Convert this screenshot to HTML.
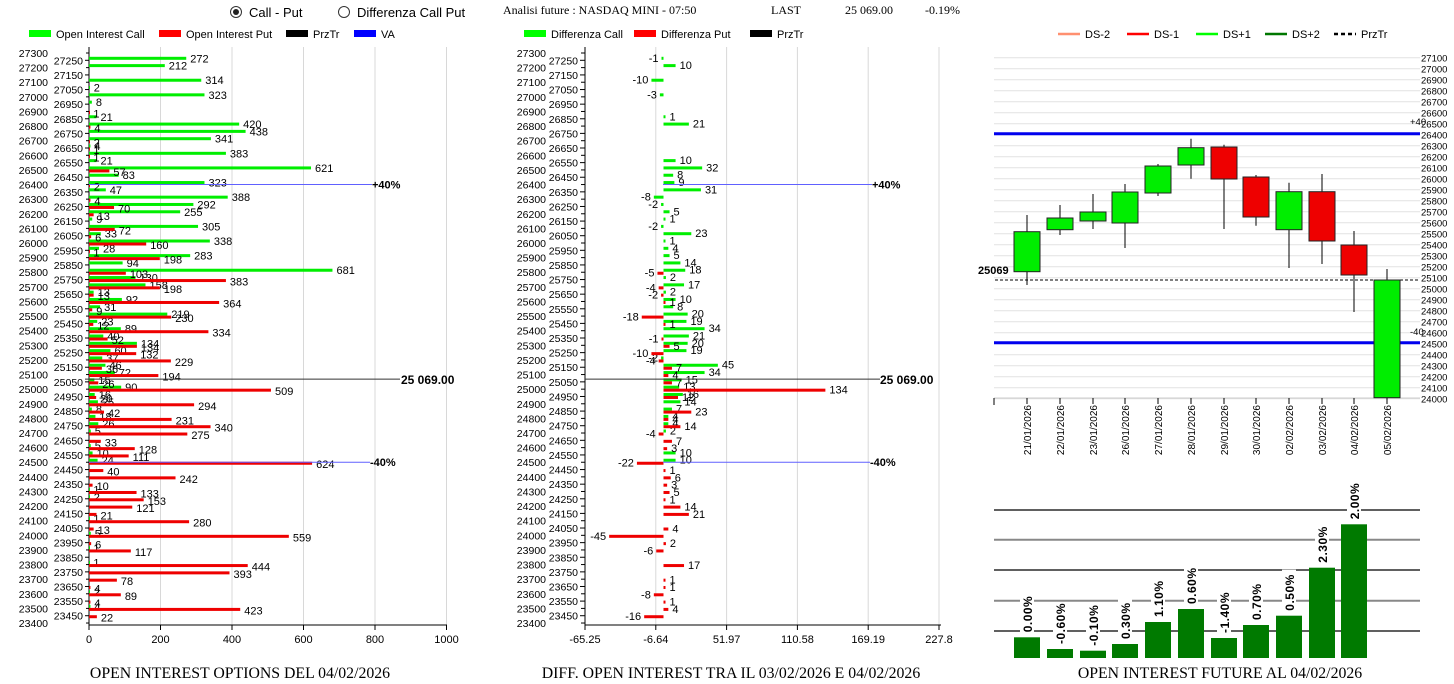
<!DOCTYPE html>
<html><head><meta charset="utf-8">
<style>
body{margin:0;background:#fff;width:1454px;height:684px;overflow:hidden}
svg{display:block}
text{font-family:"Liberation Sans",sans-serif}
.s{font-family:"Liberation Serif",serif}
</style></head><body>
<svg id="c" width="1454" height="684" xmlns="http://www.w3.org/2000/svg"></svg>
<script>
const S=document.getElementById('c');let h='';
function r(x,y,w,hh,f,extra=''){h+=`<rect x="${x}" y="${y}" width="${w}" height="${hh}" fill="${f}" ${extra}/>`;}
function l(x1,y1,x2,y2,c,w=1,extra=''){h+=`<line x1="${x1}" y1="${y1}" x2="${x2}" y2="${y2}" stroke="${c}" stroke-width="${w}" ${extra}/>`;}
function t(x,y,s,sz=11,a='start',extra=''){h+=`<text x="${x}" y="${y}" font-size="${sz}" text-anchor="${a}" ${extra}>${s}</text>`;}
// header
h+=`<circle cx="236" cy="12" r="5.5" fill="#fff" stroke="#333"/><circle cx="236" cy="12" r="3" fill="#222"/>`;
t(249,17,'Call - Put',13);
h+=`<circle cx="344" cy="12" r="5.5" fill="#fff" stroke="#333"/>`;
t(357,17,'Differenza Call Put',13);
t(503,14,'Analisi future : NASDAQ MINI - 07:50',12,'start','class="s"');
t(771,14,'LAST',12,'start','class="s"');
t(845,14,'25 069.00',12,'start','class="s"');
t(925,14,'-0.19%',12,'start','class="s"');
// legends
[[29,'#00ff00','Open Interest Call'],[159,'#ff0000','Open Interest Put'],[286,'#000','PrzTr'],[354,'#0000ff','VA']].forEach(a=>{r(a[0],30,22,7,a[1]);t(a[0]+27,38,a[2],11);});
[[524,'#00ff00','Differenza Call'],[634,'#ff0000','Differenza Put'],[750,'#000','PrzTr']].forEach(a=>{r(a[0],30,22,7,a[1]);t(a[0]+27,38,a[2],11);});
[[1058,'#ff9070','DS-2',0],[1127,'#ff0000','DS-1',0],[1196,'#00ff00','DS+1',0],[1265,'#007700','DS+2',0],[1334,'#000','PrzTr',1]].forEach(a=>{l(a[0],34,a[0]+22,34,a[1],2.5,a[3]?'stroke-dasharray="4,3"':'');t(a[0]+27,38,a[2],11);});
// data
const C={27250:272,27200:212,27100:314,27050:2,27000:323,26950:8,26850:21,26800:420,26750:438,26700:341,26650:4,26600:383,26550:21,26500:621,26450:83,26400:323,26350:47,26300:388,26250:292,26200:255,26150:9,26100:305,26050:33,26000:338,25950:28,25900:283,25850:94,25800:681,25750:130,25700:158,25650:13,25600:92,25550:31,25500:219,25450:23,25400:89,25350:40,25300:134,25250:60,25200:37,25150:46,25100:72,25050:15,25000:90,24950:16,24900:25,24850:8,24800:18,24750:26,24700:5,24600:5,24550:10,24500:24,24300:1,24250:2,24100:1,24000:5,23900:1,23800:1,23600:2,23500:4};
const P={26900:1,26800:4,26700:2,26650:1,26600:1,26500:57,26400:2,26300:4,26250:70,26200:13,26100:72,26050:6,26000:160,25950:1,25900:198,25800:103,25750:383,25700:198,25650:13,25600:364,25550:9,25500:230,25450:12,25400:334,25350:52,25300:134,25250:132,25200:229,25150:36,25100:194,25050:26,25000:509,24950:20,24900:294,24850:42,24800:231,24750:340,24700:275,24650:33,24600:128,24550:111,24500:624,24450:40,24400:242,24350:10,24300:133,24250:153,24200:121,24150:21,24100:280,24050:13,24000:559,23950:6,23900:117,23800:444,23750:393,23700:78,23650:4,23600:89,23550:4,23500:423,23450:22};
const DC={27250:-1,27200:10,27100:-10,27000:-3,26850:1,26800:21,26550:10,26500:32,26450:8,26400:9,26350:31,26300:-8,26250:-2,26200:5,26150:1,26100:-2,26050:23,26000:1,25950:4,25900:5,25850:14,25800:18,25750:2,25700:17,25650:2,25600:10,25550:8,25500:20,25450:19,25400:34,25350:21,25300:20,25250:19,25200:-2,25150:45,25100:34,25050:15,25000:13,24950:16,24900:14,24850:7,24800:4,24750:4,24700:2,24550:10,24500:10};
const DP={25800:-5,25700:-4,25650:-2,25600:1,25500:-18,25450:1,25350:-1,25300:5,25250:-10,25200:-4,25150:7,25100:4,25050:7,25000:134,24950:12,24850:23,24800:4,24750:14,24700:-4,24650:7,24600:3,24500:-22,24450:1,24400:6,24350:3,24300:5,24250:1,24200:14,24150:21,24050:4,24000:-45,23950:2,23900:-6,23800:17,23700:1,23650:1,23600:-8,23550:1,23500:4,23450:-16};
const Y=s=>53+(27300-s)/50*7.308;
// left chart
[200,400,600,800,1000].forEach(v=>{const x=89+v*0.3575;l(x,47,x,625,'#d8d8d8');});
l(89,47,89,625,'#000');l(89,625,447,625,'#000');
[0,200,400,600,800,1000].forEach(v=>{const x=89+v*0.3575;l(x,625,x,630,'#000');t(x,643,v,11,'middle');});
// middle grid
[-65.25,-6.64,51.97,110.58,169.19,227.8].forEach((v,i)=>{const x=585+i*70.8;if(i)l(x,47,x,625,'#d8d8d8');l(x,625,x,630,'#000');t(x,643,v,11,'middle');});
l(585,47,585,625,'#000');l(585,625,941,625,'#000');
for(let s=27300;s>=23400;s-=50){const y=Y(s);const odd=s%100!=0;
 l(odd?85:86,y,89,y,'#000');l(odd?580:581,y,585,y,'#000');
 if(odd){t(83,y+4,s,10.5,'end');t(578,y+4,s,10.5,'end');}
 else{t(48,y+4,s,10.5,'end');t(546,y+4,s,10.5,'end');}
}
for(const s in C){const y=Y(+s),w=C[s]*0.3575;r(89,y-3.5,Math.max(w,1),3,'#00ee00');t(89+w+4,y+2,C[s],11);}
for(const s in P){const y=Y(+s),w=P[s]*0.3575;r(89,y-0.5,Math.max(w,1),3,'#ee0000');t(89+w+4,y+6,P[s],11);}
const z=663.5,k=1.208;
function mid(D,off,col){for(const s in D){const y=Y(+s),v=D[s],w=Math.max(Math.abs(v)*k,2);const x=v>=0?z:z-w;r(x,y+off,w,3,col);if(v>=0)t(z+w+4,y+off+5,v,11);else t(z-w-3,y+off+5,v,11,'end');}}
mid(DC,-3.5,'#00ee00');mid(DP,-0.5,'#ee0000');
// lines left/mid
const yA=Y(26400),yB=Y(24500),yP=Y(25069);
l(89,yA,372,yA,'#6060ff');t(372,yA+4,'+40%',11,'start','font-weight="bold"');
l(89,yB,370,yB,'#6060ff');t(370,yB+4,'-40%',11,'start','font-weight="bold"');
l(85,yP,400,yP,'#333');t(401,yP+5,'25 069.00',12,'start','font-weight="bold"');
l(663,yA,872,yA,'#6060ff');t(872,yA+4,'+40%',11,'start','font-weight="bold"');
l(663,yB,870,yB,'#6060ff');t(870,yB+4,'-40%',11,'start','font-weight="bold"');
l(585,yP,880,yP,'#333');t(880,yP+5,'25 069.00',12,'start','font-weight="bold"');
t(240,678,'OPEN INTEREST OPTIONS DEL 04/02/2026',15.8,'middle','class="s"');
t(731,678,'DIFF. OPEN INTEREST TRA IL 03/02/2026 E 04/02/2026',15.8,'middle','class="s"');
t(1220,678,'OPEN INTEREST FUTURE AL 04/02/2026',15.8,'middle','class="s"');
// candle chart
const YC=p=>57.7+(27100-p)*0.110;
for(let p=27100;p>=24000;p-=100){const y=YC(p);l(994,y,1420,y,'#e2e2e2');t(1421,y+4,p,9.5);}
l(994,398,1420,398,'#ccc');
l(994,133.7,1420,133.7,'#0000ee',3);l(994,342.7,1420,342.7,'#0000ee',3);
t(1410,125,'+40',9.5);t(1410,335,'-40',9.5);
l(995,280,1420,280,'#000',1,'stroke-dasharray="3,2"');
t(978,274,'25069',11,'start','font-weight="bold"');
const cx=[1027,1060,1093,1125,1158,1191,1224,1256,1289,1322,1354,1387];
const cd=[[231.7,271.7,215,285,1],[218,229.7,205,235,1],[212,221,194,229,1],[192,223,184,248,1],[166,193,164,196,1],[147.7,165,138.7,178.7,1],[147,179,144.7,229,0],[177,217,175,225.7,0],[191.7,229.7,182.7,268,1],[191.7,241,174,264,0],[245,275,231,312,0],[280,397.7,269,397.7,1]];
const dates=['21/01/2026','22/01/2026','23/01/2026','26/01/2026','27/01/2026','28/01/2026','29/01/2026','30/01/2026','02/02/2026','03/02/2026','04/02/2026','05/02/2026'];
l(994,398,994,405,'#000');
cd.forEach((c,i)=>{const x=cx[i];l(x,c[2],x,c[3],'#000');r(x-13,c[0],26,c[1]-c[0],c[4]?'#00ee00':'#ee0000','stroke="#222" stroke-width="1"');l(x,398,x,404,'#000');
 h+=`<text x="0" y="0" font-size="10" text-anchor="end" transform="translate(${x+4},405) rotate(-90)">${dates[i]}</text>`;});
// bar chart
[[510,'#000'],[539.7,'#888'],[570,'#000'],[600.7,'#888'],[631,'#000']].forEach(g=>l(994,g[0],1420,g[0],g[1],g[1]=='#888'?2:1.3));
const bt=[637.3,649,650.7,644,622,609,638,625,615.7,567.7,524.3];
const bl=['0.00%','-0.60%','-0.10%','0.30%','1.10%','0.60%','-1.40%','0.70%','0.50%','2.30%','2.00%'];
bt.forEach((y,i)=>{const x=cx[i];r(x-13,y,26,658-y,'#007a00');
 h+=`<rect x="${x-7}" y="${y-46}" width="14" height="42" fill="#fff"/>`;
 h+=`<text x="0" y="0" font-size="12" font-weight="bold" font-family="Liberation Mono,monospace" transform="translate(${x+5},${y-5}) rotate(-90)" letter-spacing="0.5">${bl[i]}</text>`;});
S.innerHTML=h;
</script>
</body></html>
